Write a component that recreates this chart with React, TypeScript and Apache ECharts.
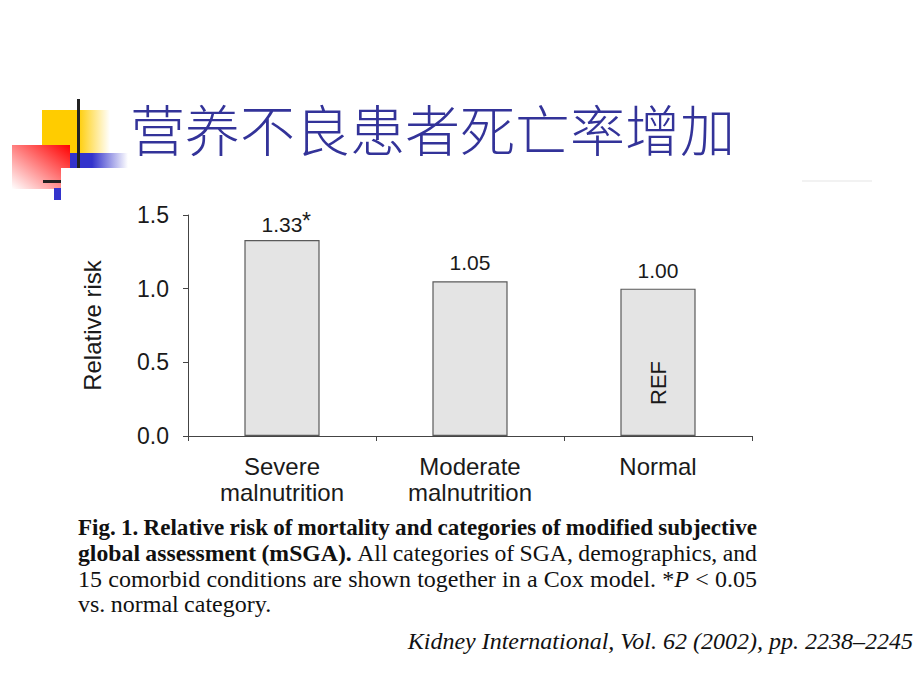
import React, { useEffect, useRef } from 'react';
import * as echarts from 'echarts';

// ---------- data ----------
const categories = ['Severe\nmalnutrition', 'Moderate\nmalnutrition', 'Normal'];
const relativeRisk = [1.33, 1.05, 1.0];
const valueLabels = ['1.33', '1.05', '1.00'];
const significance = ['*', '', ''];
const insideLabels = ['', '', 'REF'];
const insideLabelLevel = [0, 0, 0.36];
const yMin = 0;
const yMax = 1.5;
const yInterval = 0.5;
const yAxisName = 'Relative risk';
const titleText = '营养不良患者死亡率增加';
const captionLines: [string, string][][] = [
  [['Fig.  1.  Relative risk of mortality and categories of modified subjective', 'b']],
  [['global assessment (mSGA).', 'b'], [' All categories of SGA, demographics, and', 'r']],
  [['15 comorbid conditions are shown together in a Cox model. *', 'r'], ['P', 'i'], [' < 0.05', 'r']],
  [['vs. normal category.', 'r']],
];
const citationText = 'Kidney International, Vol. 62 (2002), pp. 2238–2245';

const SANS = "'Liberation Sans', Arial, Helvetica, sans-serif";
const SERIF = "'Liberation Serif', 'Times New Roman', serif";
const CJK = "'Noto Sans CJK SC', sans-serif";
const INK = '#1a1a1a';

function toWords(segs: [string, string][]) {
  const words: [string, string][][] = [];
  let cur: [string, string][] = [];
  for (const [text, st] of segs) {
    const parts = text.split(' ');
    parts.forEach((p, i) => {
      if (i > 0) {
        if (cur.length) words.push(cur);
        cur = [];
      }
      if (p) cur.push([p, st]);
    });
  }
  if (cur.length) words.push(cur);
  return words;
}

function styleFont(st: string, size: number) {
  const w = st === 'b' ? 'bold ' : '';
  const s = st === 'i' ? 'italic ' : '';
  return `${s}${w}${size}px ${SERIF}`;
}

function buildCaption(): any[] {
  const canvas = document.createElement('canvas');
  const ctx = canvas.getContext('2d')!;
  const size = 24;
  const left = 78;
  const right = 757;
  const lineY = [527, 553, 579, 604];
  const out: any[] = [];
  captionLines.forEach((segs, li) => {
    const words = toWords(segs);
    const rawWidths = words.map((w) =>
      w.map(([t, st]) => {
        ctx.font = styleFont(st, size);
        return ctx.measureText(t).width;
      })
    );
    ctx.font = styleFont('r', size);
    const spaceW = ctx.measureText(' ').width * 0.9;
    const rawTotal = rawWidths.reduce((a, w) => a + w.reduce((x, y) => x + y, 0), 0);
    const natural = rawTotal + spaceW * (words.length - 1);
    const last = li === captionLines.length - 1;
    const sc = last ? 1 : Math.min(1, (right - left) / natural);
    const widths = rawWidths.map((w) => w.map((v) => v * sc));
    const total = rawTotal * sc;
    const gap = last ? spaceW : (right - left - total) / (words.length - 1);
    let x = left;
    words.forEach((w, wi) => {
      w.forEach(([t, st], ri) => {
        out.push({
          type: 'text',
          x,
          y: lineY[li],
          scaleX: sc,
          silent: true,
          style: {
            text: t,
            font: styleFont(st, size),
            fill: '#111',
            align: 'left',
            verticalAlign: 'middle',
          },
        });
        x += widths[wi][ri];
      });
      x += gap;
    });
  });
  return out;
}

function logoGraphics(): any[] {
  const lg = (x: number, y: number, x2: number, y2: number, stops: [number, string][]) => ({
    type: 'linear',
    x,
    y,
    x2,
    y2,
    colorStops: stops.map(([offset, color]) => ({ offset, color })),
  });
  return [
    {
      type: 'rect',
      shape: { x: 42, y: 110, width: 68, height: 43 },
      style: { fill: lg(0, 0, 1, 0, [[0, '#FFCC00'], [0.52, '#FFCC00'], [1, '#FFFFFF']]) },
    },
    {
      type: 'rect',
      shape: { x: 12, y: 145, width: 58, height: 44 },
      style: { fill: lg(1, 0, 0, 1, [[0, '#FF0000'], [1, '#FFFFFF']]) },
    },
    {
      type: 'rect',
      shape: { x: 70, y: 153, width: 58, height: 15 },
      style: { fill: lg(0, 0, 1, 0, [[0, '#3333CC'], [0.38, '#3333CC'], [1, '#FFFFFF']]) },
    },
    { type: 'rect', shape: { x: 61, y: 168, width: 70, height: 30 }, style: { fill: '#FFFFFF' } },
    { type: 'rect', shape: { x: 77, y: 99, width: 3, height: 69 }, style: { fill: '#222222' } },
    { type: 'rect', shape: { x: 43, y: 180, width: 18, height: 3 }, style: { fill: '#222222' } },
    { type: 'rect', shape: { x: 54, y: 188, width: 7, height: 12 }, style: { fill: '#3333CC' } },
    { type: 'rect', shape: { x: 802, y: 180, width: 70, height: 2 }, style: { fill: '#F2F2F2' } },
  ];
}

export default function App() {
  const ref = useRef<HTMLDivElement>(null);

  useEffect(() => {
    if (!ref.current) return;
    const chart = echarts.init(ref.current, undefined, { renderer: 'svg' });

    const option: any = {
      animation: false,
      backgroundColor: '#ffffff',
      grid: { left: 188, top: 215, width: 564, height: 221, containLabel: false },
      xAxis: {
        type: 'category',
        data: categories,
        axisLine: { lineStyle: { color: '#444', width: 1 } },
        axisTick: { show: true, length: 5, interval: 0, lineStyle: { color: '#444' } },
        axisLabel: {
          interval: 0,
          fontSize: 24,
          lineHeight: 26,
          margin: 17,
          color: INK,
          fontFamily: SANS,
        },
      },
      yAxis: {
        type: 'value',
        min: yMin,
        max: yMax,
        interval: yInterval,
        name: yAxisName,
        nameLocation: 'middle',
        nameGap: 84,
        nameRotate: 90,
        nameTextStyle: { fontSize: 24, color: INK, fontFamily: SANS },
        axisLine: { show: true, lineStyle: { color: '#444', width: 1 } },
        axisTick: { show: true, length: 5, lineStyle: { color: '#444' } },
        splitLine: { show: false },
        axisLabel: {
          formatter: (v: number) => v.toFixed(1),
          fontSize: 23,
          margin: 19,
          color: INK,
          fontFamily: SANS,
        },
      },
      series: [
        {
          type: 'bar',
          barWidth: '40%',
          data: relativeRisk.map((v, i) => ({
            value: v,
            label: {
              formatter: valueLabels[i],
              distance: significance[i] ? 5 : 8,
            },
          })),
          itemStyle: { color: '#e4e4e4', borderColor: '#5a5a5a', borderWidth: 1.2 },
          label: {
            show: true,
            position: 'top',
            fontSize: 21,
            fontFamily: SANS,
            color: INK,
          },
        },
      ],
    };
    chart.setOption(option);

    const overlay: any[] = [];
    insideLabels.forEach((t, i) => {
      if (!t) return;
      const p = chart.convertToPixel({ xAxisIndex: 0, yAxisIndex: 0 }, [i, insideLabelLevel[i]]) as number[];
      overlay.push({
        type: 'text',
        x: p[0],
        y: p[1],
        z: 100,
        rotation: Math.PI / 2,
        silent: true,
        style: {
          text: t,
          font: `22px ${SANS}`,
          fill: INK,
          align: 'center',
          verticalAlign: 'middle',
        },
      });
    });
    significance.forEach((s, i) => {
      if (!s) return;
      const p = chart.convertToPixel({ xAxisIndex: 0, yAxisIndex: 0 }, [i, relativeRisk[i]]) as number[];
      overlay.push({
        type: 'text',
        x: p[0] + 20,
        y: p[1] - 19,
        z: 100,
        silent: true,
        style: {
          text: s,
          font: `23px ${SANS}`,
          fill: INK,
          align: 'left',
          verticalAlign: 'middle',
        },
      });
    });

    chart.setOption({
      graphic: [
        ...logoGraphics(),
        {
          type: 'text',
          x: 130,
          y: 127,
          style: {
            text: titleText,
            font: `300 55px ${CJK}`,
            fill: '#333399',
            align: 'left',
            verticalAlign: 'middle',
          },
        },
        ...buildCaption(),
        {
          type: 'text',
          x: 913,
          y: 641,
          style: {
            text: citationText,
            font: `italic 24px ${SERIF}`,
            fill: '#111',
            align: 'right',
            verticalAlign: 'middle',
          },
        },
        ...overlay,
      ],
    });
    return () => chart.dispose();
  }, []);

  return (
    <div
      ref={ref}
      style={{ position: 'fixed', left: 0, top: 0, width: 920, height: 690, background: '#fff' }}
    />
  );
}
